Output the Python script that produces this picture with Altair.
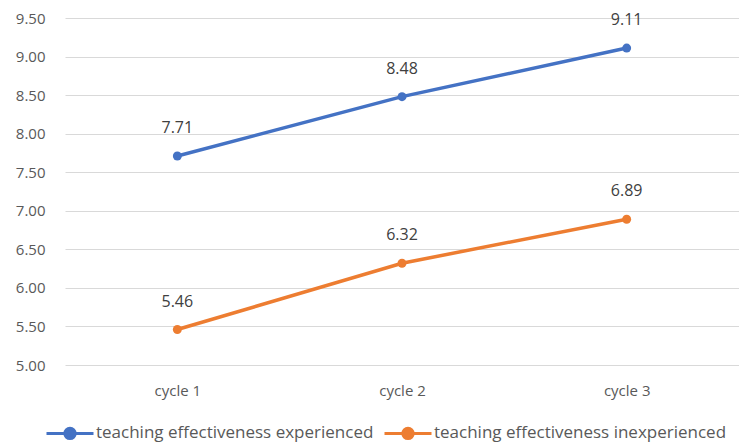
import altair as alt
import pandas as pd

cycles = ["cycle 1", "cycle 2", "cycle 3"]
experienced = [7.71, 8.48, 9.11]
inexperienced = [5.46, 6.32, 6.89]
series_names = ["teaching effectiveness experienced", "teaching effectiveness inexperienced"]
colors = ["#4472C4", "#ED7D31"]
y_ticks = [5.0, 5.5, 6.0, 6.5, 7.0, 7.5, 8.0, 8.5, 9.0, 9.5]

rows = []
for c, v in zip(cycles, experienced):
    rows.append({"cycle": c, "value": v, "series": series_names[0]})
for c, v in zip(cycles, inexperienced):
    rows.append({"cycle": c, "value": v, "series": series_names[1]})
df = pd.DataFrame(rows)

FONT = "Open Sans"

x = alt.X("cycle:N", sort=cycles, title=None,
          scale=alt.Scale(paddingInner=0, paddingOuter=0.5),
          axis=alt.Axis(labelAngle=0, domain=False, ticks=False, grid=False, labelPadding=18,
                        labelFontSize=15, labelColor="#595959", labelFont=FONT))
y = alt.Y("value:Q", title=None,
          scale=alt.Scale(domain=[5, 9.5], nice=False, zero=False),
          axis=alt.Axis(values=y_ticks, format=".2f", domain=False, ticks=False,
                        labelPadding=20, labelFontSize=15, labelColor="#595959",
                        labelFont=FONT, gridColor="#d9d9d9", gridWidth=1))
color = alt.Color("series:N", scale=alt.Scale(domain=series_names, range=colors),
                  legend=alt.Legend(title=None, orient="none", direction="horizontal",
                                    legendX=-20, legendY=390,
                                    symbolType="M-1,0H-0.22A0.22,0.22 0 1,1 0.22,0A0.22,0.22 0 1,1 -0.22,0M0.22,0H1",
                                    symbolSize=2209, symbolStrokeWidth=3,
                                    labelFontSize=17, labelColor="#595959", labelFont=FONT,
                                    columnPadding=4, labelOffset=1, labelLimit=400))

base = alt.Chart(df).encode(x=x, y=y, color=color)
lines = base.mark_line(strokeWidth=3.5, point=alt.OverlayMarkDef(size=80, filled=True))
labels = base.mark_text(dy=-28, fontSize=16, font=FONT).encode(
    text=alt.Text("value:Q", format=".2f"), color=alt.value("#404040"))

chart = (lines + labels).properties(
    width=674, height=347,
    autosize=alt.AutoSizeParams(type="none"),
    padding={"left": 65, "top": 18, "right": 0, "bottom": 78},
).configure(background="white").configure_view(stroke=None)

chart.save("out.html", embed_options={"renderer": "svg", "actions": False})
